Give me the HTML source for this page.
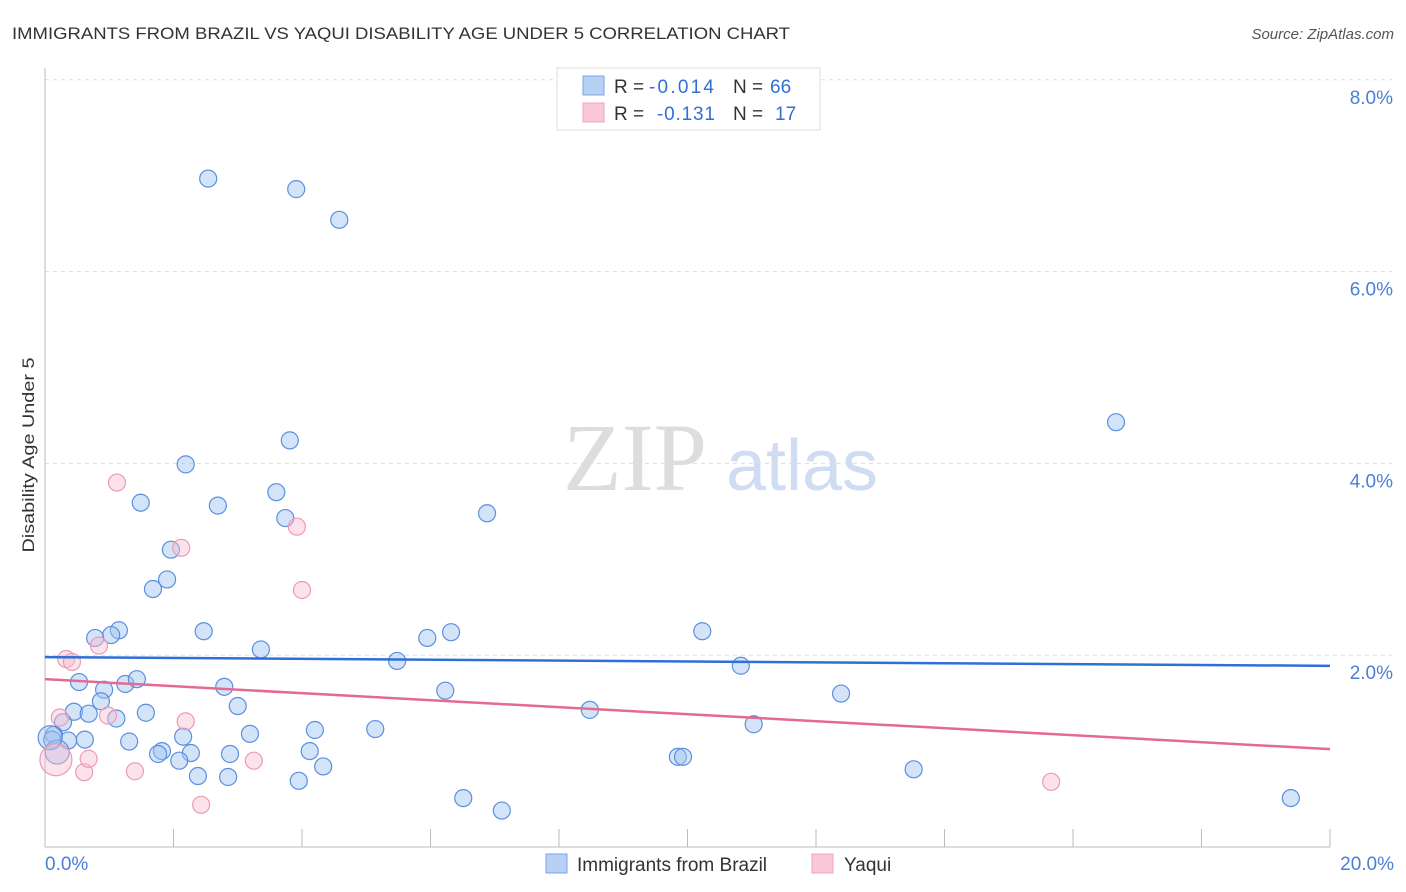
<!DOCTYPE html>
<html><head><meta charset="utf-8"><style>
body{margin:0;background:#fff;font-family:"Liberation Sans",sans-serif;}
svg{display:block}
</style></head><body>
<svg id="chart" width="1406" height="892">
<text x="12" y="39" font-size="17" fill="#333" textLength="778" lengthAdjust="spacingAndGlyphs">IMMIGRANTS FROM BRAZIL VS YAQUI DISABILITY AGE UNDER 5 CORRELATION CHART</text>
<text x="1394" y="39" font-size="15" fill="#555" text-anchor="end" font-style="italic">Source: ZipAtlas.com</text>
<text x="34" y="455" font-size="17" fill="#333" text-anchor="middle" textLength="195" lengthAdjust="spacingAndGlyphs" transform="rotate(-90 34 455)">Disability Age Under 5</text>
<g><text x="635" y="490" font-size="96" fill="#ddd" text-anchor="middle" font-family="Liberation Serif,serif">ZIP</text><text x="802" y="490" font-size="72" fill="#cfdcf2" text-anchor="middle">atlas</text></g>
<g id="grid"></g><g id="pts"></g><g id="lines"></g>
<g>
<rect x="557" y="68" width="263" height="62" fill="#fff" stroke="#ddd"/>
<rect x="583" y="76" width="21" height="19" fill="#b8d0f4" stroke="#7aa5e6"/>
<rect x="583" y="103" width="21" height="19" fill="#f9c8d6" stroke="#eea3ba"/>
<text x="614" y="93" font-size="19" fill="#333">R =</text>
<text x="649" y="93" font-size="19" fill="#2f6fd6" textLength="65">-0.014</text>
<text x="733" y="93" font-size="19" fill="#333">N =</text>
<text x="770" y="93" font-size="19" fill="#2f6fd6">66</text>
<text x="614" y="120" font-size="19" fill="#333">R =</text>
<text x="657" y="120" font-size="19" fill="#2f6fd6" textLength="58">-0.131</text>
<text x="733" y="120" font-size="19" fill="#333">N =</text>
<text x="775" y="120" font-size="19" fill="#2f6fd6">17</text>
</g>
<g>
<rect x="546" y="854" width="21" height="19" fill="#b8d0f4" stroke="#7aa5e6"/>
<text x="577" y="871" font-size="19" fill="#333">Immigrants from Brazil</text>
<rect x="812" y="854" width="21" height="19" fill="#f9c8d6" stroke="#eea3ba"/>
<text x="844" y="871" font-size="19" fill="#333">Yaqui</text>
</g>
</svg>
<script>
const blueX=[2.54,3.91,4.58,16.67,3.81,2.19,1.49,2.69,3.60,3.74,6.88,1.96,1.90,1.68,1.15,1.03,0.78,2.47,3.36,5.95,6.32,10.23,5.48,10.83,0.53,0.92,1.25,1.43,2.79,6.23,12.39,0.87,3.00,8.48,0.45,0.68,1.57,1.11,0.28,11.03,0.14,3.19,2.15,4.20,5.14,1.31,0.62,0.36,0.11,1.82,1.76,2.27,2.88,4.12,2.09,4.33,9.85,9.93,2.38,2.85,3.95,13.52,6.51,7.11,19.39,0.19,0.08];
const blueY=[6.97,6.86,6.54,4.43,4.24,3.99,3.59,3.56,3.70,3.43,3.48,3.10,2.79,2.69,2.26,2.21,2.18,2.25,2.06,2.18,2.24,2.25,1.94,1.89,1.72,1.64,1.70,1.75,1.67,1.63,1.60,1.52,1.47,1.43,1.41,1.39,1.40,1.34,1.30,1.28,1.17,1.18,1.15,1.22,1.23,1.10,1.12,1.11,1.12,1.00,0.97,0.98,0.97,1.00,0.90,0.84,0.94,0.94,0.74,0.73,0.69,0.81,0.51,0.38,0.51,0.99,1.14];
const pinkX=[1.12,2.12,3.92,4.00,0.33,0.42,0.84,0.23,0.98,2.19,0.17,0.61,0.68,1.40,3.25,2.43,15.66];
const pinkY=[3.80,3.12,3.34,2.68,1.96,1.93,2.10,1.35,1.37,1.31,0.91,0.78,0.92,0.79,0.90,0.44,0.68];
const blueTrend=[1.98,1.889];
const pinkTrend=[1.75,1.02];
const yTicks=[2,4,6,8];
const xTicks=[0,2,4,6,8,10,12,14,16,18,20];
const X=v=>45+v/20*1285, Y=v=>847-v*95.9;
const NS="http://www.w3.org/2000/svg";
function mk(t,a,p){const e=document.createElementNS(NS,t);for(const k in a)e.setAttribute(k,a[k]);p.appendChild(e);return e;}
const g=document.getElementById('grid');
yTicks.forEach(t=>{const l=mk('line',{x1:45,x2:1392,y1:Y(t),y2:Y(t),stroke:'#ddd','stroke-dasharray':'4 4'},g);


const tx=mk('text',{x:1393,y:Y(t)+24,'font-size':19,fill:'#4a7fd6','text-anchor':'end'},g);tx.textContent=t.toFixed(1)+'%';

});
mk('line',{x1:45,x2:45,y1:68,y2:847,stroke:'#bbb'},g);
mk('line',{x1:45,x2:1330,y1:847,y2:847,stroke:'#bbb'},g);
xTicks.forEach(t=>{const l=mk('line',{x1:X(t),x2:X(t),y1:829,y2:847,stroke:'#bbb'},g);

});
[[0,'start',45],[20,'end',1394]].forEach(([v,a,x])=>{const tx=mk('text',{x:x,y:870,'font-size':19,fill:'#4a7fd6','text-anchor':a},g);tx.textContent=v.toFixed(1)+'%';

});
const p=document.getElementById('pts');
blueX.forEach((v,i)=>{const c=mk('circle',{cx:X(v),cy:Y(blueY[i]),r:(i>=65?12:8.5),fill:'rgba(160,195,240,0.45)',stroke:'#5b8fe0','stroke-width':1.2},p);

});
pinkX.forEach((v,i)=>{const c=mk('circle',{cx:X(v),cy:Y(pinkY[i]),r:(i==10?16:8.5),fill:'rgba(248,190,208,0.45)',stroke:'#ee9ab5','stroke-width':1.2},p);

});
const L=document.getElementById('lines');
const b=mk('line',{x1:X(0),x2:X(20),y1:Y(blueTrend[0]),y2:Y(blueTrend[1]),stroke:'#2f6fd6','stroke-width':2.5},L);


const pl=mk('line',{x1:X(0),x2:X(20),y1:Y(pinkTrend[0]),y2:Y(pinkTrend[1]),stroke:'#e46a93','stroke-width':2.5},L);


</script>
</body></html>
